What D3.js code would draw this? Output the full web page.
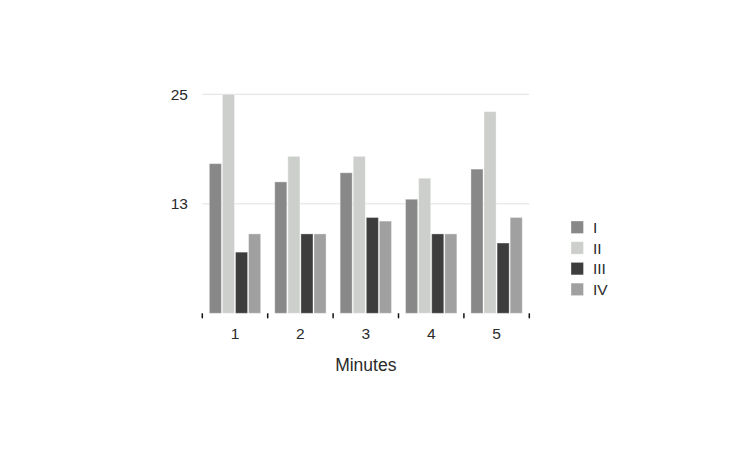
<!DOCTYPE html>
<html>
<head>
<meta charset="utf-8">
<script src="https://cdn.jsdelivr.net/npm/d3@7"></script>
<style>
  html, body { margin: 0; padding: 0; background: #fff; }
  svg text { font-family: "Liberation Sans", Arial, Helvetica, sans-serif; }
</style>
</head>
<body>
<svg id="chart" width="733" height="460"></svg>
<script>
const categories = ["1", "2", "3", "4", "5"];
const seriesNames = ["I", "II", "III", "IV"];
const seriesI   = [17.4, 15.4, 16.4, 13.5, 16.8];
const seriesII  = [25, 18.2, 18.2, 15.8, 23.1];
const seriesIII = [7.7, 9.7, 11.5, 9.7, 8.7];
const seriesIV  = [9.7, 9.7, 11.1, 9.7, 11.5];
const yTicks = [13, 25];
const yDomain = [1, 25];
const xTitle = "Minutes";
const colors = ["#888888", "#cdcfcc", "#3d3d3d", "#a0a0a0"];

const seriesValues = [seriesI, seriesII, seriesIII, seriesIV];
const data = categories.map((c, i) => ({
  cat: c,
  values: seriesNames.map((s, j) => ({ key: s, value: seriesValues[j][i] }))
}));

const textColor = "#2a2a2a";
const svg = d3.select("#chart");
const plotLeft = 202.3, plotRight = 529.3, plotTop = 94.3, plotBottom = 313.3;

const x0 = d3.scaleBand().domain(categories).range([plotLeft, plotRight])
  .paddingInner(0.2).paddingOuter(0.1);
const x1 = d3.scaleBand().domain(seriesNames).range([0, x0.bandwidth()]).padding(0);
const y = d3.scaleLinear().domain(yDomain).range([plotBottom, plotTop]);
const color = d3.scaleOrdinal().domain(seriesNames).range(colors);

// gridlines
svg.append("g").selectAll("line").data(yTicks).join("line")
  .attr("x1", plotLeft).attr("x2", plotRight)
  .attr("y1", d => y(d)).attr("y2", d => y(d))
  .attr("stroke", "#e2e2e2").attr("stroke-width", 1);

// y labels
svg.append("g").selectAll("text").data(yTicks).join("text")
  .attr("x", 188).attr("y", d => y(d))
  .attr("dy", "0.36em")
  .attr("text-anchor", "end")
  .attr("font-size", 15.5)
  .attr("fill", textColor)
  .text(d => d);

// bars
const groups = svg.append("g").selectAll("g").data(data).join("g")
  .attr("transform", d => `translate(${x0(d.cat)},0)`);
groups.selectAll("rect").data(d => d.values).join("rect")
  .attr("x", d => x1(d.key) + 0.5)
  .attr("width", x1.bandwidth() - 1)
  .attr("y", d => y(d.value))
  .attr("height", d => plotBottom - y(d.value))
  .attr("fill", d => color(d.key))
  .attr("stroke", "rgba(255,255,255,0.35)")
  .attr("stroke-width", 1);

// x ticks at band boundaries
const step = x0.step();
const boundaries = d3.range(categories.length + 1).map(i => x0(categories[0]) - x0.paddingOuter() * step + i * step);
svg.append("g").selectAll("line").data(boundaries).join("line")
  .attr("x1", d => d).attr("x2", d => d)
  .attr("y1", plotBottom).attr("y2", plotBottom + 5)
  .attr("stroke", "#111").attr("stroke-width", 1.5);

// x labels
svg.append("g").selectAll("text").data(categories).join("text")
  .attr("x", d => x0(d) + x0.bandwidth() / 2)
  .attr("y", 333)
  .attr("dy", "0.36em")
  .attr("text-anchor", "middle")
  .attr("font-size", 15.5)
  .attr("fill", textColor)
  .text(d => d);

svg.append("text")
  .attr("x", (plotLeft + plotRight) / 2)
  .attr("y", 365)
  .attr("dy", "0.36em")
  .attr("text-anchor", "middle")
  .attr("font-size", 17.5)
  .attr("fill", textColor)
  .text(xTitle);

// legend
const legend = svg.append("g").selectAll("g").data(seriesNames).join("g")
  .attr("transform", (d, i) => `translate(571,${221 + i * 20.7})`);
legend.append("rect")
  .attr("width", 12.5).attr("height", 12.5)
  .attr("fill", d => color(d))
  .attr("stroke", "rgba(255,255,255,0.35)");
legend.append("text")
  .attr("x", 22).attr("y", 6.5)
  .attr("dy", "0.36em")
  .attr("font-size", 15.5)
  .attr("fill", textColor)
  .text(d => d);
</script>
</body>
</html>
